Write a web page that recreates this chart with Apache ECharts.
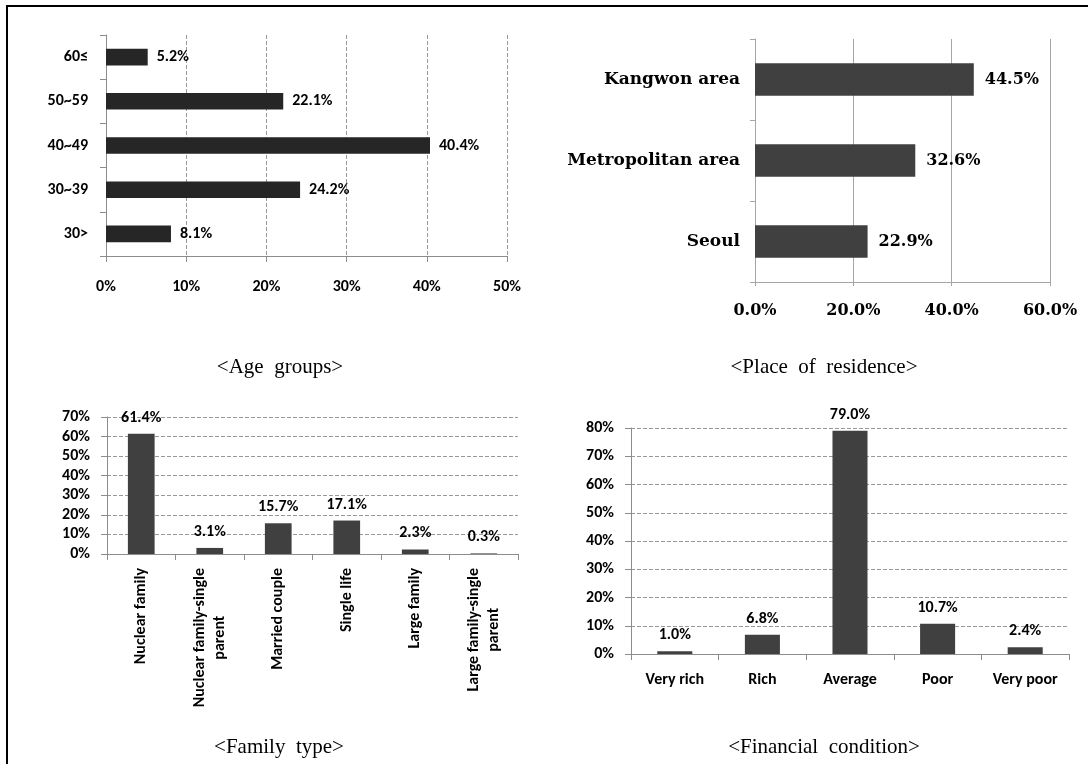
<!DOCTYPE html>
<html>
<head>
<meta charset="utf-8">
<script src="https://cdn.jsdelivr.net/npm/echarts@6/dist/echarts.min.js"></script>
<style>
  html, body { margin: 0; padding: 0; background: #fff; }
  #chart { width: 1088px; height: 764px; }
</style>
</head>
<body>
<div id="chart"></div>
<script>
// age groups (bottom to top)
const ageCats = ['30>', '30~39', '40~49', '50~59', '60≤'];
const ageVals = [8.1, 24.2, 40.4, 22.1, 5.2];

// place of residence (bottom to top)
const placeCats = ['Seoul', 'Metropolitan area', 'Kangwon area'];
const placeVals = [22.9, 32.6, 44.5];

// family type
const familyCats = ['Nuclear family', 'Nuclear family-single parent', 'Married couple',
  'Single life', 'Large family', 'Large family-single parent'];
const familyVals = [61.4, 3.1, 15.7, 17.1, 2.3, 0.3];

// financial condition
const financeCats = ['Very rich', 'Rich', 'Average', 'Poor', 'Very poor'];
const financeVals = [1.0, 6.8, 79.0, 10.7, 2.4];

const sans = 'Carlito, Calibri, Lato, sans-serif';
const serif = '"DejaVu Serif", serif';
const axisGray = '#8c8c8c';

const boldSans = { fontFamily: sans, fontWeight: 'bold', fontSize: 16, color: '#000' };
const boldSerif = { fontFamily: serif, fontWeight: 'bold', fontSize: 16, color: '#000' };
const captionFont = '21px "Liberation Serif", serif';

const pct1 = p => p.value.toFixed(1) + '%';

// wrap the long family labels in two lines like in the original
const wrapFamily = v => {
  const parts = v.indexOf('-single ') > 0 ? v.replace('-single ', '-single\n').split('\n') : [v];
  return parts.map(s => '{c|' + s + '}').join('\n');
};

const chart = echarts.init(document.getElementById('chart'));

const option = {
  animation: false,
  grid: [
    { left: 106, top: 35, width: 401, height: 221, outerBoundsMode: 'none' },
    { left: 755, top: 39, width: 295, height: 243, outerBoundsMode: 'none' },
    { left: 107, top: 417, width: 411, height: 137, outerBoundsMode: 'none' },
    { left: 631, top: 428, width: 438, height: 226, outerBoundsMode: 'none' }
  ],
  xAxis: [
    {
      gridIndex: 0, type: 'value', min: 0, max: 50, interval: 10,
      axisLine: { show: true, lineStyle: { color: axisGray } },
      axisTick: { show: true, length: 6, lineStyle: { color: axisGray } },
      axisLabel: { ...boldSans, margin: 23, formatter: '{value}%' },
      splitLine: { show: true, lineStyle: { type: 'dashed', color: '#999' } }
    },
    {
      gridIndex: 1, type: 'value', min: 0, max: 60, interval: 20,
      axisLine: { show: true, lineStyle: { color: '#a6a6a6' } },
      axisTick: { show: true, length: 4, lineStyle: { color: '#a6a6a6' } },
      axisLabel: { ...boldSerif, margin: 21, formatter: v => v.toFixed(1) + '%' },
      splitLine: { show: true, lineStyle: { color: '#a6a6a6' } }
    },
    {
      gridIndex: 2, type: 'category', data: familyCats,
      axisLine: { show: true, lineStyle: { color: axisGray } },
      axisTick: { show: true, length: 6, lineStyle: { color: axisGray } },
      axisLabel: {
        ...boldSans, fontSize: 16, rotate: 90, interval: 0, margin: 14,
        formatter: wrapFamily,
        rich: { c: { align: 'center', fontFamily: sans, fontWeight: 'bold', fontSize: 16, lineHeight: 20, color: '#000' } }
      }
    },
    {
      gridIndex: 3, type: 'category', data: financeCats,
      axisLine: { show: true, lineStyle: { color: axisGray } },
      axisTick: { show: true, length: 6, lineStyle: { color: axisGray } },
      axisLabel: { ...boldSans, interval: 0, margin: 18 }
    }
  ],
  yAxis: [
    {
      gridIndex: 0, type: 'category', data: ageCats,
      axisLine: { show: true, lineStyle: { color: axisGray } },
      axisTick: { show: true, length: 6, lineStyle: { color: axisGray } },
      axisLabel: { ...boldSans, margin: 18 }
    },
    {
      gridIndex: 1, type: 'category', data: placeCats,
      axisLine: { show: true, lineStyle: { color: '#a6a6a6' } },
      axisTick: { show: true, length: 5, lineStyle: { color: '#a6a6a6' } },
      axisLabel: { ...boldSerif, fontSize: 17, margin: 15 }
    },
    {
      gridIndex: 2, type: 'value', min: 0, max: 70, interval: 10,
      axisLine: { show: true, lineStyle: { color: axisGray } },
      axisTick: { show: true, length: 6, lineStyle: { color: axisGray } },
      axisLabel: { ...boldSans, margin: 17, formatter: '{value}%' },
      splitLine: { show: true, lineStyle: { type: 'dashed', color: '#999' } }
    },
    {
      gridIndex: 3, type: 'value', min: 0, max: 80, interval: 10,
      axisLine: { show: true, lineStyle: { color: axisGray } },
      axisTick: { show: true, length: 6, lineStyle: { color: axisGray } },
      axisLabel: { ...boldSans, margin: 17, formatter: '{value}%' },
      splitLine: { show: true, lineStyle: { type: 'dashed', color: '#999' } }
    }
  ],
  series: [
    {
      type: 'bar', xAxisIndex: 0, yAxisIndex: 0, data: ageVals, barWidth: '37.5%',
      itemStyle: { color: '#262626' },
      label: { show: true, position: 'right', distance: 9, ...boldSans, formatter: pct1 }
    },
    {
      type: 'bar', xAxisIndex: 1, yAxisIndex: 1, data: placeVals, barWidth: '40%',
      itemStyle: { color: '#404040' },
      label: { show: true, position: 'right', distance: 11, ...boldSerif, formatter: pct1 }
    },
    {
      type: 'bar', xAxisIndex: 2, yAxisIndex: 2, data: familyVals, barWidth: '39%',
      itemStyle: { color: '#404040' },
      label: { show: true, position: 'top', distance: 8, ...boldSans, formatter: pct1 }
    },
    {
      type: 'bar', xAxisIndex: 3, yAxisIndex: 3, data: financeVals, barWidth: '40%',
      itemStyle: { color: '#404040' },
      label: { show: true, position: 'top', distance: 8, ...boldSans, formatter: pct1 }
    }
  ],
  graphic: [
    {
      type: 'rect', silent: true,
      shape: { x: 7, y: 6, width: 1120, height: 820 },
      style: { fill: 'none', stroke: '#000', lineWidth: 2 }
    },
    { type: 'text', x: 280, y: 367, style: { text: '<Age  groups>', font: captionFont, fill: '#000', align: 'center', verticalAlign: 'middle' } },
    { type: 'text', x: 824, y: 367, style: { text: '<Place  of  residence>', font: captionFont, fill: '#000', align: 'center', verticalAlign: 'middle' } },
    { type: 'text', x: 279, y: 747, style: { text: '<Family  type>', font: captionFont, fill: '#000', align: 'center', verticalAlign: 'middle' } },
    { type: 'text', x: 824, y: 747, style: { text: '<Financial  condition>', font: captionFont, fill: '#000', align: 'center', verticalAlign: 'middle' } }
  ]
};

chart.setOption(option);
</script>
</body>
</html>
